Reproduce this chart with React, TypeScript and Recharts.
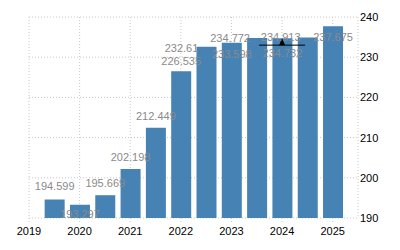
import React from "react";
import {
  ComposedChart, Bar, XAxis, YAxis, CartesianGrid, LabelList, ReferenceDot,
} from "recharts";

// half-year points, mid-2019 .. 2025
const periods = [2019.5, 2020, 2020.5, 2021, 2021.5, 2022, 2022.5, 2023, 2023.5, 2024, 2024.5, 2025];
const values = [194.599, 193.297, 195.669, 202.198, 212.449, 226.535, 232.61, 233.598, 234.772, 234.732, 234.913, 237.675];
const yearTicks = [2019, 2020, 2021, 2022, 2023, 2024, 2025];
const valueTicks = [190, 200, 210, 220, 230, 240];
const markerYear = 2024;
const markerValue = 233;

// label nudges (px) so the value texts sit like the original
const labelDx = [0, 0, 0, 0, 0, 0, -25, 0, -27, 0, -27, 0];
const labelDy = [-13, 9, -12, -12, -12, -10, 1, 11, 0, 15, 0, 11];

const data = periods.map((t, i) => ({ t, v: values[i] }));

const FONT = "'Liberation Sans', Arial, sans-serif";
const GRID = "#c8c8c8";

const ValueLabel = (props: any) => {
  const { x, y, width, value, index } = props;
  const cx = Number(x) + Number(width) / 2 + labelDx[index];
  const cy = Number(y) + labelDy[index];
  return (
    <text x={cx} y={cy} dy="0.35em" textAnchor="middle" fontSize={11} fontFamily={FONT} fill="#8a8a8a">
      {value}
    </text>
  );
};

const Marker = (props: any) => {
  const { cx, cy } = props;
  return (
    <g>
      <line x1={cx - 23} x2={cx + 23} y1={cy} y2={cy} stroke="#000" strokeWidth={1} />
      <polygon points={`${cx - 3},${cy} ${cx + 3},${cy} ${cx},${cy - 7}`} fill="#000" />
    </g>
  );
};

export default function App() {
  return (
    <div style={{ position: "fixed", left: 0, top: 0, width: 400, height: 250, background: "#fff" }}>
      <ComposedChart width={400} height={250} data={data} margin={{ top: 17, right: 0, left: 29, bottom: 0 }}>
        <CartesianGrid stroke={GRID} strokeDasharray="1 2" />
        <XAxis
          dataKey="t"
          type="number"
          domain={[2019, 2025.5]}
          ticks={yearTicks}
          height={32}
          axisLine={false}
          tickLine={{ stroke: GRID, strokeDasharray: "1 2" }}
          tickSize={4}
          tickMargin={5}
          tick={{ fill: "#000", fontSize: 11, fontFamily: FONT }}
          allowDataOverflow
        />
        <YAxis
          orientation="right"
          type="number"
          domain={[190, 240]}
          ticks={valueTicks}
          width={42}
          axisLine={false}
          tickLine={false}
          tickSize={0}
          tickMargin={2}
          tick={{ fill: "#000", fontSize: 11, fontFamily: FONT, textAnchor: "start" }}
          allowDataOverflow
        />
        <Bar dataKey="v" fill="#4682b4" barSize={20} isAnimationActive={false}>
          <LabelList dataKey="v" content={ValueLabel} />
        </Bar>
        <ReferenceDot x={markerYear} y={markerValue} shape={Marker} />
      </ComposedChart>
    </div>
  );
}
